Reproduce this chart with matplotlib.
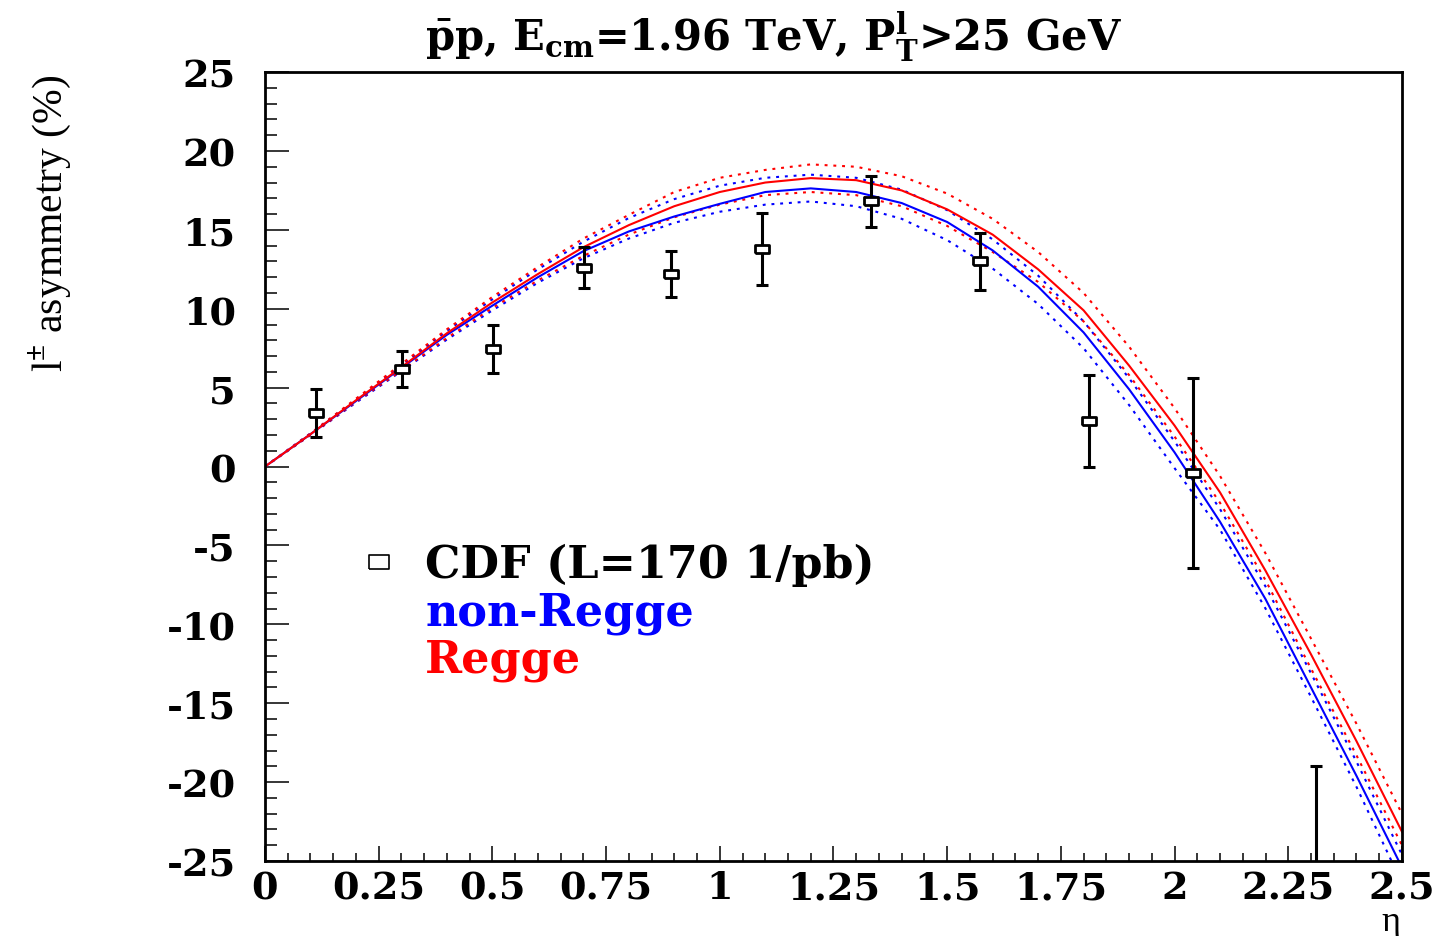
import numpy as np
import matplotlib
matplotlib.use("Agg")
import matplotlib.pyplot as plt
from matplotlib.lines import Line2D
from matplotlib.ticker import MultipleLocator

plt.rcParams["font.family"] = "DejaVu Serif"
plt.rcParams["font.weight"] = "bold"
plt.rcParams["mathtext.fontset"] = "custom"
plt.rcParams["mathtext.rm"] = "Liberation Serif"
plt.rcParams["mathtext.bf"] = "DejaVu Serif:bold"

# curve grid in eta
eta = [0.0, 0.1, 0.2, 0.3, 0.4, 0.5, 0.6, 0.7, 0.8, 0.9, 1.0, 1.1, 1.2,
       1.3, 1.4, 1.5, 1.6, 1.7, 1.8, 1.9, 2.0, 2.1, 2.2, 2.3, 2.4, 2.5]

# non-Regge (blue): central, upper, lower
nonregge = [0.0, 2.05, 4.15, 6.25, 8.35, 10.2, 12.0, 13.65, 14.9, 15.85, 16.65, 17.4, 17.63,
            17.4, 16.7, 15.5, 13.7, 11.4, 8.5, 4.9, 0.9, -3.5, -8.4, -14.0, -19.6, -25.4]
nonregge_up = [0.0, 2.1, 4.25, 6.4, 8.6, 10.6, 12.5, 14.25, 15.75, 16.95, 17.8, 18.3, 18.5,
               18.3, 17.55, 16.25, 14.4, 12.1, 9.2, 5.6, 1.6, -2.7, -7.6, -13.1, -18.7, -24.6]
nonregge_lo = [0.0, 2.0, 4.05, 6.05, 8.05, 9.9, 11.65, 13.2, 14.45, 15.45, 16.15, 16.6, 16.8,
               16.5, 15.7, 14.35, 12.55, 10.3, 7.5, 3.9, -0.1, -4.0, -9.0, -14.6, -20.3, -26.4]

# Regge (red): central, upper, lower
regge = [0.0, 2.05, 4.2, 6.3, 8.45, 10.4, 12.2, 13.9, 15.3, 16.5, 17.4, 18.0, 18.28,
         18.15, 17.5, 16.3, 14.7, 12.5, 9.9, 6.4, 2.6, -1.64, -6.6, -11.9, -17.4, -23.14]
regge_up = [0.0, 2.1, 4.3, 6.5, 8.7, 10.75, 12.65, 14.45, 15.95, 17.4, 18.3, 18.8, 19.15,
            19.0, 18.4, 17.3, 15.7, 13.6, 11.0, 7.6, 3.7, -0.6, -5.5, -10.9, -16.3, -22.0]
regge_lo = [0.0, 2.0, 4.1, 6.1, 8.15, 10.05, 11.8, 13.35, 14.7, 15.8, 16.6, 17.2, 17.4,
            17.2, 16.5, 15.25, 13.6, 11.7, 9.2, 5.8, 1.9, -2.3, -7.2, -12.8, -18.3, -24.0]

# CDF data
cdf_eta = [0.112, 0.301, 0.501, 0.701, 0.893, 1.093, 1.333, 1.572, 1.812, 2.04, 2.311]
cdf_val = [3.4, 6.2, 7.45, 12.6, 12.2, 13.8, 16.8, 13.0, 2.9, -0.4, -30.0]
cdf_err = [1.5, 1.15, 1.5, 1.3, 1.46, 2.3, 1.6, 1.8, 2.9, 6.0, 11.0]

xtick_pos = [0, 0.25, 0.5, 0.75, 1, 1.25, 1.5, 1.75, 2, 2.25, 2.5]
xtick_lab = ["0", "0.25", "0.5", "0.75", "1", "1.25", "1.5", "1.75", "2", "2.25", "2.5"]
ytick_pos = [25, 20, 15, 10, 5, 0, -5, -10, -15, -20, -25]
ytick_lab = ["25", "20", "15", "10", "5", "0", "-5", "-10", "-15", "-20", "-25"]

# wide open rectangle marker
rect = [(-1.5, -1), (1.5, -1), (1.5, 1), (-1.5, 1), (-1.5, -1)]
dots = (0, (1.4, 2.8))

fig = plt.figure(figsize=(14.41, 9.37), dpi=100)
ax = fig.add_axes([0.1839, 0.0800, 0.789, 0.842])

ax.plot(eta, nonregge_up, color="blue", lw=1.5, ls=dots)
ax.plot(eta, nonregge_lo, color="blue", lw=1.5, ls=dots)
ax.plot(eta, regge_up, color="red", lw=1.5, ls=dots)
ax.plot(eta, regge_lo, color="red", lw=1.5, ls=dots)
ax.plot(eta, nonregge, color="blue", lw=1.5)
ax.plot(eta, regge, color="red", lw=1.5)

ax.errorbar(cdf_eta, cdf_val, yerr=cdf_err, fmt="none", ecolor="black",
            elinewidth=2.2, capsize=4.3, capthick=2.2, zorder=5)
ax.plot(cdf_eta, cdf_val, ls="none", marker=rect, ms=9.5, mfc="white",
        mec="black", mew=2.0, zorder=6)

ax.set_xlim(0, 2.5)
ax.set_ylim(-25, 25)
ax.set_xticks(xtick_pos, xtick_lab)
ax.set_yticks(ytick_pos, ytick_lab)
ax.xaxis.set_minor_locator(MultipleLocator(0.05))
ax.yaxis.set_minor_locator(MultipleLocator(1))
ax.tick_params(axis="x", which="major", direction="in", length=11, width=1.1,
               pad=6, labelsize=27.5)
ax.tick_params(axis="x", which="minor", direction="in", length=5.5, width=1.1)
ax.tick_params(axis="y", which="major", direction="in", length=17, width=1.1,
               pad=21, labelsize=27.5)
ax.tick_params(axis="y", which="minor", direction="in", length=8.6, width=1.1)
for s in ax.spines.values():
    s.set_linewidth(2.0)

handles = [Line2D([], [], ls="none", marker=rect, ms=15, mfc="white", mec="black", mew=1.2),
           Line2D([], [], ls="none"),
           Line2D([], [], ls="none")]
labels = ["CDF (L=170 1/pb)", "non-Regge", "Regge"]
ax.legend(handles, labels, loc="upper left", bbox_to_anchor=(0.0808, 0.403),
          frameon=False, fontsize=32, labelcolor=["black", "blue", "red"],
          handlelength=1.0, handletextpad=0.54, labelspacing=0.09,
          borderpad=0, borderaxespad=0)

fig.text(774 / 1441, 1 - 50 / 937,
         r"$\bar{\mathbf{p}}$p, E$_{\mathbf{cm}}$=1.96 TeV, P$_{\mathbf{T}}^{\mathbf{l}}$>25 GeV",
         ha="center", va="baseline", fontsize=30, fontweight="bold")
fig.text(50 / 1441, 1 - 75 / 937, r"l$^{\pm}$ asymmetry (%)", rotation=90,
         ha="center", va="top", fontsize=30, family="Liberation Serif",
         fontweight="normal")
fig.text(1400 / 1441, 1 - 931 / 937, "η", ha="right", va="baseline",
         fontsize=26, family="Liberation Serif", fontweight="normal")

fig.savefig("out.png", dpi=100)
